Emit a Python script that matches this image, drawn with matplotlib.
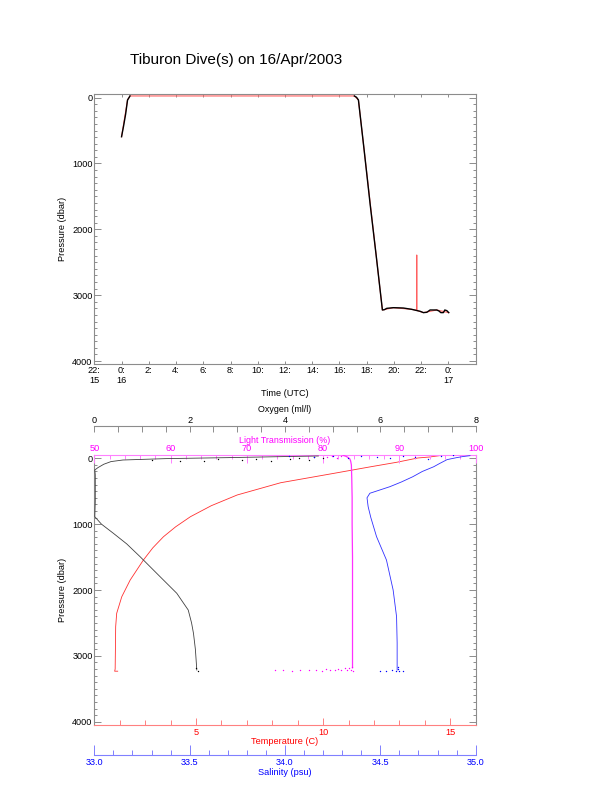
import matplotlib
matplotlib.use('Agg')
import matplotlib.pyplot as plt
from matplotlib.ticker import MultipleLocator, FormatStrFormatter
import numpy as np

plt.rcParams['font.family'] = ['Liberation Sans', 'DejaVu Sans']
plt.rcParams['font.size'] = 6.6

nan = np.nan

# ---- top panel: pressure vs time (hours since 16/Apr 00:00 UTC)
time_ticks = [-2, 0, 2, 4, 6, 8, 10, 12, 14, 16, 18, 20, 22, 24]
time_labels = ['22:\n15', '0:\n16', '2:', '4:', '6:', '8:', '10:', '12:', '14:',
               '16:', '18:', '20:', '22:', '0:\n17']

rov_time = [0.0, 0.15, 0.3, 0.44, 0.55, 0.62, nan, 17.09, 17.25, 17.39, 17.8, 18.25,
            18.7, 19.15, 19.3, 19.47, 19.96, 20.69, 21.3, 21.92, 22.16, 22.41, 22.65,
            23.14, 23.3, 23.44, 23.63, 23.73, 23.88, 24.02]
rov_pres = [594, 430, 250, 36, 0, -25, nan, -25, -5, 36, 780, 1620,
            2410, 3225, 3220, 3200, 3190, 3195, 3215, 3245, 3265, 3260, 3225,
            3225, 3240, 3265, 3265, 3225, 3235, 3265]

ctd_time = [0.0, 0.44, 0.62, 3.0, 8.0, 13.0, 17.09, 17.39, 19.15, 19.96, 21.3,
            21.66, 21.67, 21.68, 22.16, 23.14, 24.02]
ctd_pres = [594, 36, -25, -25, -25, -25, -25, 36, 3225, 3190, 3215,
            3230, 2390, 3232, 3265, 3225, 3265]

# ---- bottom panel: profiles
temp_pres = [-50, -20, -5, 60, 128, 228, 371, 557, 720, 887, 1040, 1191, 1360, 1545,
             1849, 2102, 2354, 2557, 2900, 3200, 3233, 3233]
temp_val = [14.77, 14.2, 13.73, 12.9, 11.88, 10.43, 8.33, 6.62, 5.6, 4.78, 4.2, 3.72,
            3.3, 2.93, 2.41, 2.08, 1.88, 1.84, 1.83, 1.82, 1.8, 1.92]

oxy_pres = [-35, -25, -10, 5, 26, 50, 90, 140, 177, 250, 450, 650, 887, 1000, 1139,
            1300, 1494, 1798, 2050, 2304, 2500, 2658, 2900, 3215]
oxy_val = [4.7, 3.9, 2.8, 1.5, 0.6, 0.35, 0.2, 0.08, 0.01, 0.02, 0.02, 0.02, 0.01,
           0.15, 0.40, 0.68, 0.96, 1.38, 1.73, 1.97, 2.04, 2.08, 2.12, 2.15]
oxy_dot_val = [1.2, 1.8, 2.3, 2.6, 3.1, 3.4, 3.7, 4.1, 4.3, 4.5, 4.6, 4.8, 2.13, 2.17]
oxy_dot_pres = [20, 40, 35, 15, 30, 5, 40, 10, -5, 25, -20, -10, 3180, 3232]

lt_pres = [-45, -30, -10, 10, 40, 100, 300, 600, 1000, 1500, 2000, 2500, 3000, 3180]
lt_val = [82.6, 83.0, 83.3, 83.5, 83.6, 83.7, 83.75, 83.8, 83.8, 83.85, 83.85,
          83.85, 83.85, 83.85]
lt_dot_val = [73.7, 74.8, 75.9, 77.0, 78.2, 79.1, 79.8, 80.4, 80.9, 81.5, 82.0, 82.4,
              82.8, 83.1, 83.4, 83.6, 83.8, 83.9, 80.5, 81.2, 81.8, 82.3]
lt_dot_pres = [3222, 3218, 3225, 3215, 3222, 3212, 3225, 3205, 3218, 3210, 3198, 3220,
               3190, 3208, 3185, 3215, 3170, 3230, -20, -35, -10, -40]

sal_pres = [-40, -25, -10, 20, 80, 128, 200, 280, 360, 431, 531, 600, 735, 900, 1190,
            1545, 2000, 2405, 2800, 3215]
sal_val = [34.97, 34.93, 34.9, 34.85, 34.81, 34.78, 34.72, 34.67, 34.61, 34.55, 34.445,
           34.43, 34.436, 34.45, 34.48, 34.532, 34.567, 34.585, 34.588, 34.588]
sal_dot_val = [34.02, 34.15, 34.25, 34.33, 34.4, 34.48, 34.55, 34.62, 34.68, 34.75,
               34.82, 34.88, 34.5, 34.53, 34.56, 34.58, 34.6, 34.62, 34.59, 34.59]
sal_dot_pres = [-35, -20, -40, -10, -30, -25, 0, -40, -15, 10, -30, -45,
                3225, 3228, 3222, 3230, 3226, 3228, 3165, 3200]

GREY = '#8c8c8c'
RED = '#ff0000'
MAG = '#ff00ff'
BLUE = '#0000ff'
DOT = dict(ls='none', marker='o', ms=1.0, mew=0)

fig = plt.figure(figsize=(6.12, 7.85), dpi=100)
fig.text(236 / 612, 1 - 60 / 785, 'Tiburon Dive(s) on 16/Apr/2003',
         ha='center', va='center', fontsize=11)


def pressure_axis(ax):
    ax.set_ylim(4050, -50)
    ax.set_yticks([0, 1000, 2000, 3000, 4000])
    ax.yaxis.set_minor_locator(MultipleLocator(100))
    ax.tick_params(axis='y', which='major', direction='in', length=5, width=0.7,
                   left=True, right=True, color=GREY, pad=1.2, labelsize=6.6)
    ax.tick_params(axis='y', which='minor', direction='in', length=2.5, width=0.7,
                   left=True, right=True, color=GREY)
    ax.set_ylabel('Pressure (dbar)', fontsize=6.6)
    ax.yaxis.set_label_coords(-0.0716, 0.5)
    for s in ax.spines.values():
        s.set_color(GREY)
        s.set_linewidth(0.8)


# top panel
ax1 = fig.add_axes([0.1541, 0.5359, 0.6232, 0.34395])
ax1.plot(ctd_time, ctd_pres, color='#ff6060', lw=0.8, zorder=3)
ax1.plot(rov_time, rov_pres, color='black', lw=1.0, zorder=4)
ax1.set_xlim(-2, 26)
ax1.set_xticks(time_ticks)
ax1.set_xticklabels(time_labels, linespacing=1.1)
ax1.tick_params(axis='x', direction='in', length=2.2, width=0.7, top=True, bottom=True,
                color=GREY, pad=1.5, labelsize=6.6)
pressure_axis(ax1)
ax1.set_xlabel('Time (UTC)', fontsize=6.6)
ax1.xaxis.set_label_coords(0.5, -0.0896)

# bottom panel, temperature on main axes
ax2 = fig.add_axes([0.1541, 0.07643, 0.6232, 0.34395])
pressure_axis(ax2)
ax2.set_xlim(1, 16)
ax2.set_xticks([5, 10, 15])
ax2.xaxis.set_minor_locator(MultipleLocator(1))
ax2.tick_params(axis='x', which='major', direction='in', length=5, width=0.7,
                color='#ff8080', labelcolor=RED, pad=1.8, labelsize=6.6)
ax2.tick_params(axis='x', which='minor', direction='in', length=3.6, width=0.7,
                color='#ff8080')
ax2.spines['bottom'].set_color('#ff8080')
ax2.spines['top'].set_color('#ff80ff')
ax2.set_xlabel('Temperature (C)', color=RED, fontsize=6.6)
ax2.xaxis.set_label_coords(0.5, -0.046)
ax2.plot(temp_val, temp_pres, color='#ff3030', lw=0.6)

# light transmission on top spine
ax_lt = ax2.twiny()
ax_lt.set_xlim(50, 100)
ax_lt.set_xticks(range(50, 101, 10))
ax_lt.xaxis.set_minor_locator(MultipleLocator(2))
ax_lt.tick_params(axis='x', which='major', direction='in', length=5.5, width=0.7,
                  color='#ff80ff', labelcolor=MAG, pad=1.2, labelsize=6.6)
ax_lt.tick_params(axis='x', which='minor', direction='in', length=3.2, width=0.7,
                  color='#ff80ff')
for s in ax_lt.spines.values():
    s.set_visible(False)
ax_lt.set_xlabel('Light Transmission (%)', color=MAG, fontsize=6.4)
ax_lt.xaxis.set_label_coords(0.5, 1.044)
ax_lt.plot(lt_val, lt_pres, color='#ff30ff', lw=0.9)
ax_lt.plot(lt_dot_val, lt_dot_pres, color=MAG, **DOT)

# oxygen, axis above
ax_o = ax2.twiny()
ax_o.set_xlim(0, 8)
ax_o.set_xticks(range(0, 9, 2))
ax_o.xaxis.set_minor_locator(MultipleLocator(0.5))
ax_o.tick_params(axis='x', which='both', direction='in', length=4.5, width=0.7,
                 color=GREY, pad=0.7, labelsize=6.6)
for k, s in ax_o.spines.items():
    s.set_visible(k == 'top')
ax_o.spines['top'].set_position(('outward', 21))
ax_o.spines['top'].set_color(GREY)
ax_o.spines['top'].set_linewidth(0.8)
ax_o.set_xlabel('Oxygen (ml/l)', fontsize=6.4)
ax_o.xaxis.set_label_coords(0.5, 1.158)
ax_o.plot(oxy_val, oxy_pres, color='#404040', lw=0.6)
ax_o.plot(oxy_dot_val, oxy_dot_pres, color='black', **DOT)

# salinity, axis below
ax_s = ax2.twiny()
ax_s.xaxis.set_ticks_position('bottom')
ax_s.xaxis.set_label_position('bottom')
ax_s.set_xlim(33, 35)
ax_s.set_xticks(np.arange(33.0, 35.01, 0.5))
ax_s.xaxis.set_major_formatter(FormatStrFormatter('%.1f'))
ax_s.xaxis.set_minor_locator(MultipleLocator(0.1))
ax_s.tick_params(axis='x', which='major', direction='in', length=7, width=0.7,
                 color='#8080ff', labelcolor=BLUE, pad=2.2, labelsize=6.6)
ax_s.tick_params(axis='x', which='minor', direction='in', length=3.6, width=0.7,
                 color='#8080ff')
for k, s in ax_s.spines.items():
    s.set_visible(k == 'bottom')
ax_s.spines['bottom'].set_position(('outward', 21.6))
ax_s.spines['bottom'].set_color('#8080ff')
ax_s.spines['bottom'].set_linewidth(0.8)
ax_s.set_xlabel('Salinity (psu)', color=BLUE, fontsize=6.6)
ax_s.xaxis.set_label_coords(0.5, -0.159)
ax_s.plot(sal_val, sal_pres, color='#3030ff', lw=0.6)
ax_s.plot(sal_dot_val, sal_dot_pres, color=BLUE, **DOT)

plt.savefig('out.png', dpi=100)
